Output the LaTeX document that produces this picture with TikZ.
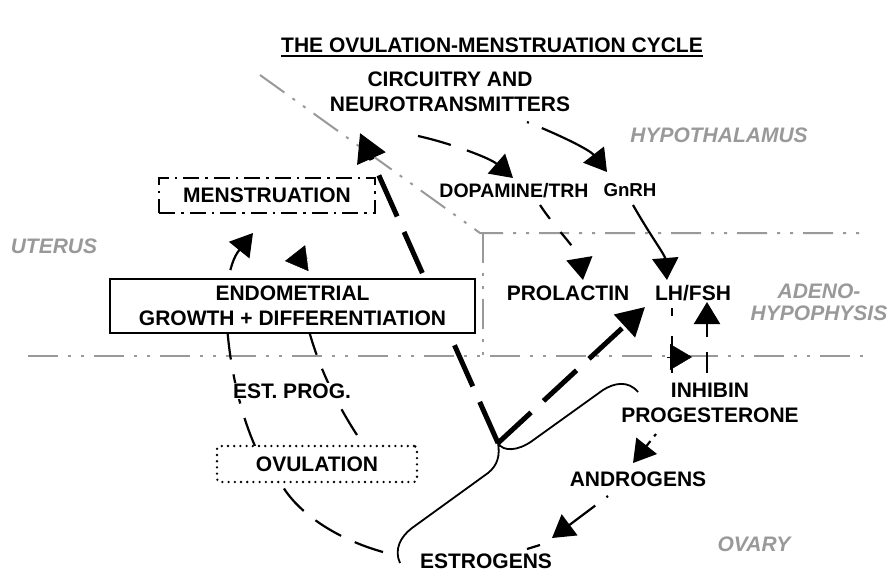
\documentclass[tikz,border=0pt]{standalone}
\usepackage{fontspec}
\setmainfont{Liberation Sans}
\usetikzlibrary{arrows.meta}

\begin{document}
\begin{tikzpicture}[
    x=1pt, y=-1pt,
    >={Triangle[length=22pt,width=26pt]},
    lbl/.style={font=\fontsize{21}{25.5}\selectfont\bfseries, align=center, inner sep=1pt},
    hormone/.style={lbl, font=\fontsize{19.5}{23}\selectfont\bfseries},
    region/.style={font=\fontsize{21}{22}\selectfont\bfseries\itshape, text=black!40, align=center},
    zone/.style={black!40, line width=2pt, dash pattern=on 30pt off 10pt on 3pt off 10pt on 3pt off 10pt},
    link/.style={line width=2.2pt, dash pattern=on 30pt off 15pt},
    feed/.style={line width=5pt, dash pattern=on 45pt off 17pt, -{Triangle[length=28pt,width=30pt]}}
]

\useasboundingbox (0,0) rectangle (890,571);

% Title
\node[lbl, inner sep=0pt] (title) at (492,45) {THE OVULATION-MENSTRUATION CYCLE};
\draw[line width=1.6pt] ([yshift=-4pt]title.base west) -- ([yshift=-4pt]title.base east);

% Region borders
\draw[zone] (260,75) -- (480,233) -- (860,233);
\draw[zone] (483,233) -- (483,356);
\draw[zone] (28,356) -- (868,356);

% Region names
\node[region] (hypo) at (719,135) {HYPOTHALAMUS};
\node[region] (uterus) at (54,246) {UTERUS};
\node[region] (adeno) at (819,302) {ADENO-\\HYPOPHYSIS};
\node[region] (ovary) at (754,544) {OVARY};

% Free ends of the connectors
\coordinate (ovul_left) at (255,446);
\coordinate (ovul_right) at (357,435);
\coordinate (menstr_a) at (253,233);
\coordinate (menstr_b) at (300,270);
\coordinate (estr_left) at (383,552);
\coordinate (ovul_low) at (280,482);
\coordinate (vtip) at (498,443);
\coordinate (circ_tip) at (360,133);
\coordinate (lh_tip) at (645,307);

% Uterine arcs (behind the boxes)
\draw[link,->] (ovul_left) .. controls (228,385) and (215,280) .. (menstr_a);
\draw[link] (ovul_right) .. controls (318,375) and (300,315) .. (menstr_b);
\draw[->] (308,258) -- (285,261);
\draw[link] (estr_left) .. controls (340,540) and (298,515) .. (ovul_low);

% Feedback to the brain
\draw[feed] (vtip) -- (circ_tip);
\draw[feed] (vtip) -- (lh_tip);

% Ovarian brace
\draw[line width=1.8pt] (638,392) .. controls (628,380) and (614,383) .. (603,390)
    -- (532,441) .. controls (518,451) and (503,452) .. (vtip)
    .. controls (500,455) and (498,465) .. (488,473)
    -- (412,528) .. controls (400,537) and (394,550) .. (400,563);

% Boxes
\node[lbl, draw, line width=2pt, dash pattern=on 16pt off 6pt on 2.5pt off 6pt,
    minimum width=216pt, minimum height=35pt, inner sep=0pt] (menstr) at (267,195.5) {MENSTRUATION};
\node[lbl, draw, fill=white, line width=1.4pt, minimum width=365pt, minimum height=54pt,
    inner sep=0pt] (endo) at (292.5,306) {ENDOMETRIAL\\GROWTH + DIFFERENTIATION};
\node[lbl, draw, fill=white, line width=2.6pt, line cap=round, dash pattern=on 0pt off 6.2pt,
    rounded corners=3pt, minimum width=200pt, minimum height=36pt, inner sep=0pt] (ovul) at (317,464) {OVULATION};
\node[lbl, fill=white] (estprog) at (292,391) {EST. PROG.};

% Brain and pituitary
\node[lbl] (circ) at (450,92) {CIRCUITRY AND\\NEUROTRANSMITTERS};
\node[hormone] (dopa) at (514,191) {DOPAMINE/TRH};
\node[hormone, font=\fontsize{18.7}{22}\selectfont\bfseries] (gnrh) at (630,190) {GnRH};
\node[lbl] (prl) at (568,293) {PROLACTIN};
\node[lbl] (lhfsh) at (693,293) {LH/FSH};

% Ovary
\node[lbl] (inhib) at (710,403) {INHIBIN\\PROGESTERONE};
\node[lbl] (andro) at (638,479) {ANDROGENS};
\node[lbl] (estr) at (486,561) {ESTROGENS};

% Cycle arrows
\draw[link, dash pattern=on 34pt off 17pt, ->] (418,136) .. controls (450,143) and (490,158) .. (513,178);
\draw[link, dash pattern=on 2pt off 14pt on 100pt, ->] (527,122) .. controls (560,135) and (590,150) .. (607,172);
\draw[link, dash pattern=on 17pt off 17pt, ->] (540,205) .. controls (555,228) and (578,250) .. (583,280);
\draw[link, solid, ->] (633,205) .. controls (650,235) and (665,255) .. (667,280);
\draw[link, dash pattern=on 8pt off 20pt on 40pt] (672,308) -- (672,373);
\draw[->] (667,357) -- (692,357);
\draw[link, dash pattern=on 21pt off 15pt on 40pt, ->] (707,373) -- (707,302);
\draw[link, dash pattern=on 3pt off 6pt on 40pt, ->] (656,434) -- (633,463);
\draw[link, dash pattern=on 2pt off 14pt on 60pt, ->] (608,496) -- (552,538);
\draw[link] (540,545) -- (527,549);

\end{tikzpicture}
\end{document}
